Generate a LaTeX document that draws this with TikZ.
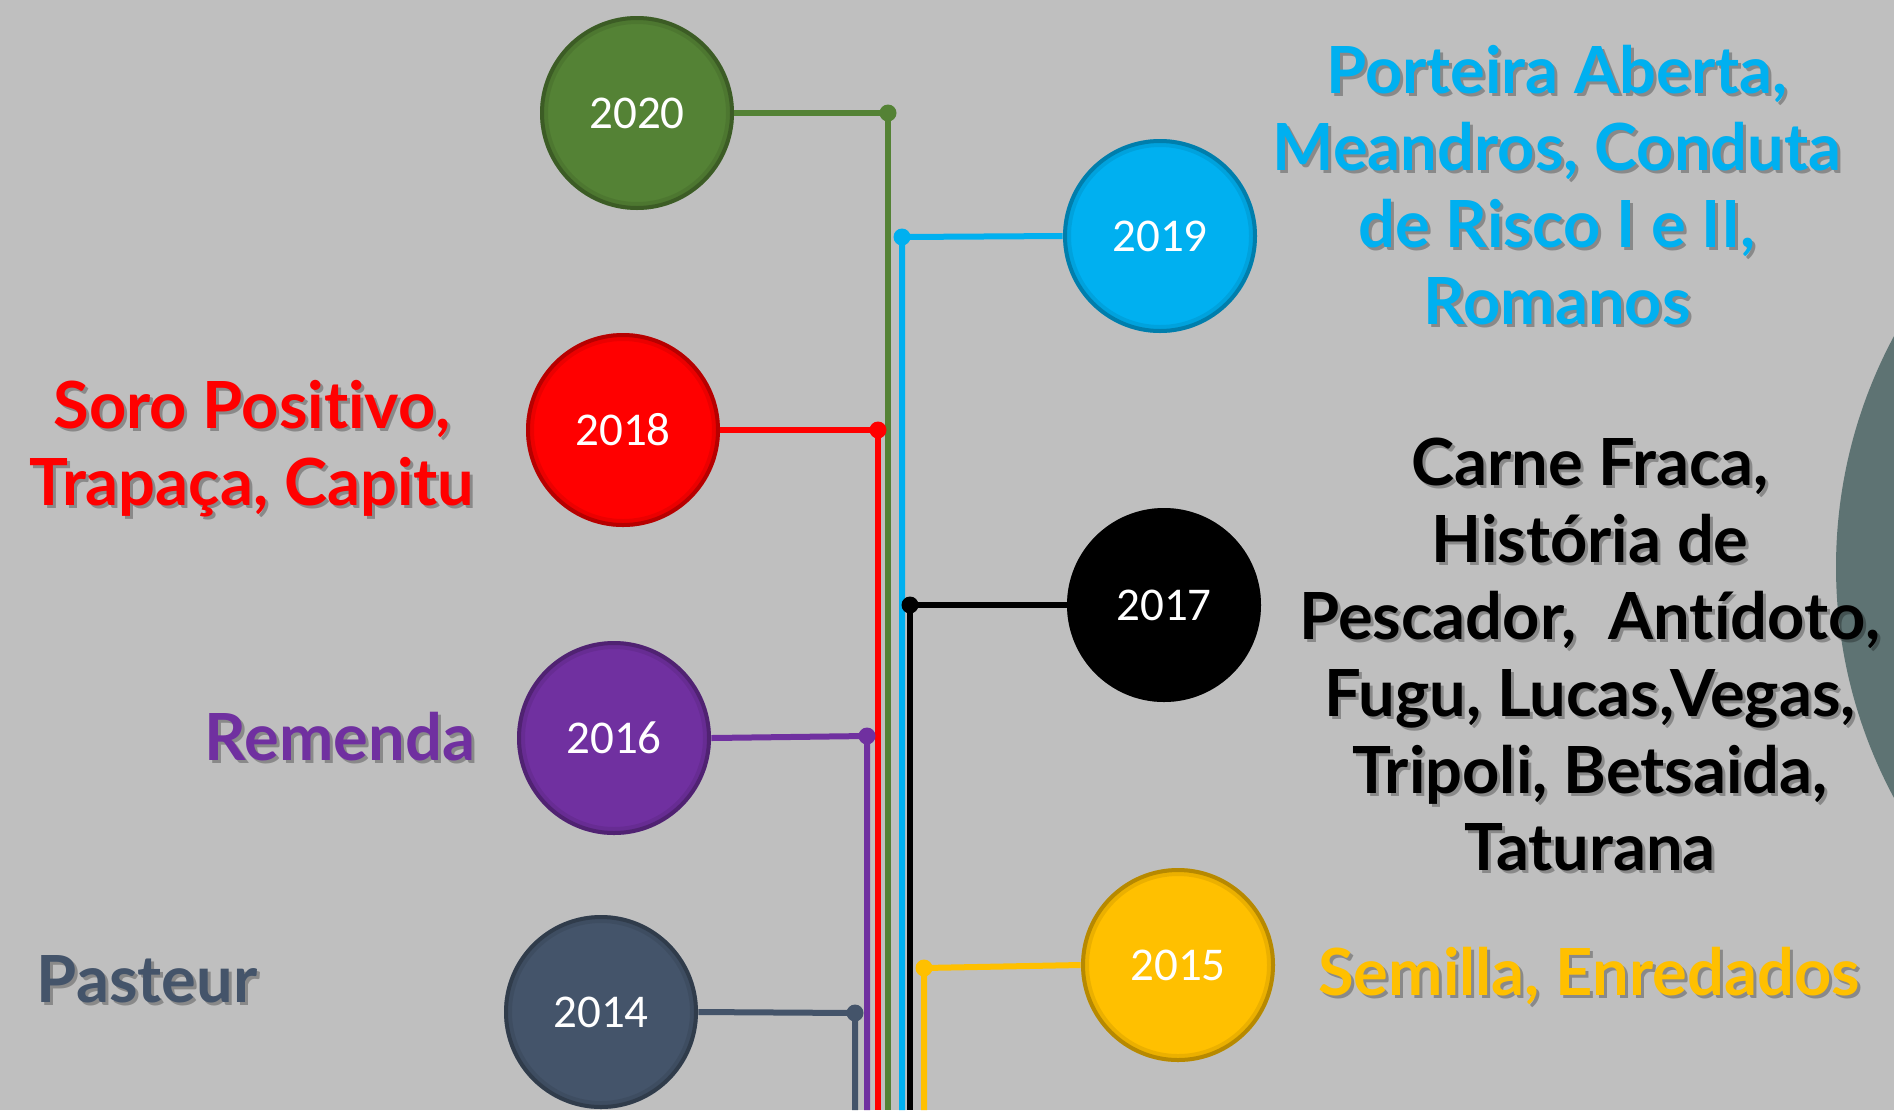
\documentclass[tikz,border=0pt]{standalone}
\usepackage{fontspec}
\setmainfont{Lato}[Ligatures=NoCommon]
\newfontfamily\yrfont{Carlito}
\definecolor{bgc}{HTML}{BFBFBF}
\definecolor{bigc}{HTML}{5E7373}
\definecolor{cgreen}{HTML}{548235}
\definecolor{cblue}{HTML}{00B0F0}
\definecolor{cred}{HTML}{FF0000}
\definecolor{cpurple}{HTML}{7030A0}
\definecolor{cyellow}{HTML}{FFC000}
\definecolor{cslate}{HTML}{44546A}
\begin{document}
\begin{tikzpicture}[x=0.5pt,y=-0.5pt,
  yr/.style={circle, minimum size=97pt, inner sep=0pt, text=white,
    font=\yrfont\fontsize{23.5}{28}\selectfont},
  ring/.style={draw=black, draw opacity=0.22, line width=2pt},
  ringb/.style={draw=black, draw opacity=0.08, line width=4pt},
  conn/.style={line width=3pt},
  lab/.style={align=center, anchor=base, inner sep=0pt,
    font=\bfseries\fontsize{32.5}{38.5}\selectfont},
  shad/.style={lab, text=black, text opacity=0.28}]
\useasboundingbox (0,0) rectangle (1894,1110);
\fill[bgc] (0,0) rectangle (1894,1110);
\clip (0,0) rectangle (1894,1110);
% big partial circle at right
\fill[bigc] (2324,567) circle (488);

% year circles
\node[yr, fill=cgreen]  (c2020) at (637,113)  {2020};
\node[yr, fill=cblue]   (c2019) at (1160,236) {2019};
\node[yr, fill=cred]    (c2018) at (623,430)  {2018};
\node[yr, fill=black]   (c2017) at (1164,605) {2017};
\node[yr, fill=cpurple] (c2016) at (614,738)  {2016};
\node[yr, fill=cyellow] (c2015) at (1178,965) {2015};
\node[yr, fill=cslate]  (c2014) at (601,1012) {2014};
\foreach \n in {c2020,c2019,c2018,c2017,c2016,c2015,c2014}{
  \draw[ringb] (\n.center) circle[radius=46.5pt];
  \draw[ring] (\n.center) circle[radius=47.5pt];
}

% connector corners and ends
\coordinate (d2020) at (888,113);  \coordinate (e2020) at (888,1110);
\coordinate (d2019) at (902,237);  \coordinate (e2019) at (902,1110);
\coordinate (d2018) at (878,430);  \coordinate (e2018) at (878,1110);
\coordinate (d2017) at (910,605);  \coordinate (e2017) at (910,1110);
\coordinate (d2016) at (867,736);  \coordinate (e2016) at (867,1110);
\coordinate (d2015) at (924,968);  \coordinate (e2015) at (924,1110);
\coordinate (d2014) at (855,1013); \coordinate (e2014) at (855,1110);

\draw[conn, cgreen]  (c2020.east) -- (d2020) -- (e2020);
\draw[conn, cblue]   (c2019.west) -- (d2019) -- (e2019);
\draw[conn, cred]    (c2018.east) -- (d2018) -- (e2018);
\draw[conn, black]   (c2017.west) -- (d2017) -- (e2017);
\draw[conn, cpurple] (c2016.east) -- (d2016) -- (e2016);
\draw[conn, cyellow] (c2015.west) -- (d2015) -- (e2015);
\draw[conn, cslate]  (c2014.east) -- (d2014) -- (e2014);
\fill[cgreen]  (d2020) circle (8.5);
\fill[cblue]   (d2019) circle (8.5);
\fill[cred]    (d2018) circle (8.5);
\fill[black]   (d2017) circle (8.5);
\fill[cpurple] (d2016) circle (8.5);
\fill[cyellow] (d2015) circle (8.5);
\fill[cslate]  (d2014) circle (8.5);

% labels (shadow + text); base anchor = baseline of last line
\node[shad] (s2019) at (1560,327) {Porteira Aberta,\\Meandros, Conduta\\de Risco I e II,\\Romanos};
\node[lab, text=cblue] (t2019) at (1557,324) {Porteira Aberta,\\Meandros, Conduta\\de Risco I e II,\\Romanos};

\node[shad] (s2018) at (255,508) {Soro Positivo,\\Trapaça, Capitu};
\node[lab, text=cred] (t2018) at (252,505) {Soro Positivo,\\Trapaça, Capitu};

\node[shad] (s2017) at (1593,873) {Carne Fraca,\\História de\\Pescador,\ \ Antídoto,\\Fugu, Lucas,Vegas,\\Tripoli, Betsaida,\\Taturana};
\node[lab, text=black] (t2017) at (1590,870) {Carne Fraca,\\História de\\Pescador,\ \ Antídoto,\\Fugu, Lucas,Vegas,\\Tripoli, Betsaida,\\Taturana};

\node[shad] (s2016) at (343,763) {Remenda};
\node[lab, text=cpurple] (t2016) at (340,760) {Remenda};

\node[shad] (s2015) at (1592,998) {Semilla, Enredados};
\node[lab, text=cyellow] (t2015) at (1589,995) {Semilla, Enredados};

\node[shad] (s2014) at (150,1005) {Pasteur};
\node[lab, text=cslate] (t2014) at (147,1002) {Pasteur};
\end{tikzpicture}
\end{document}
